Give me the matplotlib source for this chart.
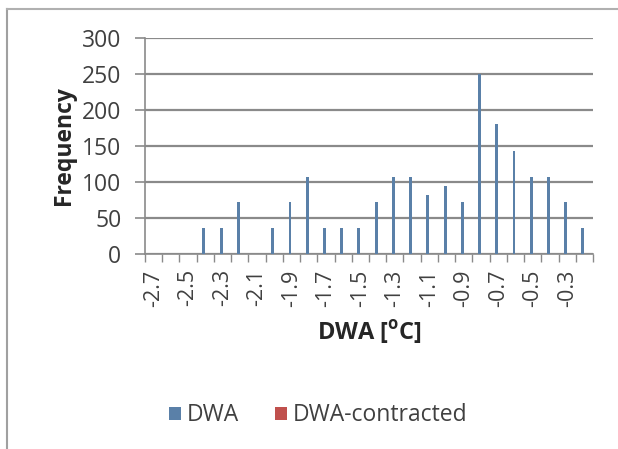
import matplotlib.pyplot as plt
import numpy as np

# categories (DWA values) and frequencies
categories = ['-2.7', '-2.6', '-2.5', '-2.4', '-2.3', '-2.2', '-2.1', '-2', '-1.9', '-1.8',
              '-1.7', '-1.6', '-1.5', '-1.4', '-1.3', '-1.2', '-1.1', '-1', '-0.9', '-0.8',
              '-0.7', '-0.6', '-0.5', '-0.4', '-0.3', '-0.2']
dwa = [0, 0, 0, 36, 36, 72, 0, 36, 72, 107, 36, 36, 36, 72, 107, 107, 82, 95, 72, 250,
       180, 143, 107, 107, 72, 36]
dwa_contracted = [0] * len(categories)
y_ticks = [0, 50, 100, 150, 200, 250, 300]

plt.rcParams['font.family'] = ['Open Sans', 'DejaVu Sans']

fig = plt.figure(figsize=(6.18, 4.49), dpi=100)
ax = fig.add_axes([0.2346, 0.4343, 0.7249, 0.4817])

x = np.arange(len(categories))
bw = 0.17
ax.bar(x - bw / 2, dwa, width=bw, color='#5a80a8', label='DWA', zorder=3)
ax.bar(x + bw / 2, dwa_contracted, width=bw, color='#C0504D', label='DWA-contracted', zorder=3)

ax.set_xlim(-0.5, len(categories) - 0.5)
ax.set_ylim(0, 300)
ax.set_yticks(y_ticks)
ax.tick_params(axis='y', labelsize=16.5, labelcolor='#404040', color='#8a8a8a', length=7,
               width=1.2, direction='out', pad=10)

# major labels on every second category, tick marks at category borders
ax.set_xticks(x[::2])
ax.set_xticklabels(categories[::2], rotation=90, fontsize=15.5, color='#404040')
ax.tick_params(axis='x', length=0, pad=11)
ax.set_xticks(np.arange(-0.5, len(categories)), minor=True)
ax.tick_params(axis='x', which='minor', length=6, width=1.0, color='#8a8a8a', direction='out')

ax.yaxis.grid(True, color='#8a8a8a', linewidth=1.6, zorder=0)
ax.set_axisbelow(True)
for s in ['top', 'right']:
    ax.spines[s].set_visible(False)
ax.spines['left'].set_color('#8a8a8a')
ax.spines['left'].set_linewidth(1.2)
ax.spines['bottom'].set_color('#8a8a8a')
ax.spines['bottom'].set_linewidth(1.2)

ax.set_ylabel('Frequency', fontsize=16.5, fontweight='bold', color='#262626', labelpad=4)
ax.set_xlabel('DWA [$^\\mathregular{o}$C]', fontsize=17, fontweight='bold', color='#262626',
              labelpad=8)

handles, labels = ax.get_legend_handles_labels()
leg = fig.legend(handles, labels, loc='center', bbox_to_anchor=(0.515, 0.075), ncol=2,
                 frameon=False, fontsize=16.5, handlelength=0.5, handleheight=0.5,
                 handletextpad=0.25, columnspacing=1.6)
for t in leg.get_texts():
    t.set_color('#404040')

# chart border (left and top edges visible in the crop)
fig.add_artist(plt.Line2D([7 / 618, 7 / 618], [0.0, 1 - 9 / 449], transform=fig.transFigure,
                          color='#a0a0a0', linewidth=1.5))
fig.add_artist(plt.Line2D([7 / 618, 1.0], [1 - 9 / 449, 1 - 9 / 449], transform=fig.transFigure,
                          color='#b0b0b0', linewidth=1.5))

fig.savefig('out.png', dpi=100)
